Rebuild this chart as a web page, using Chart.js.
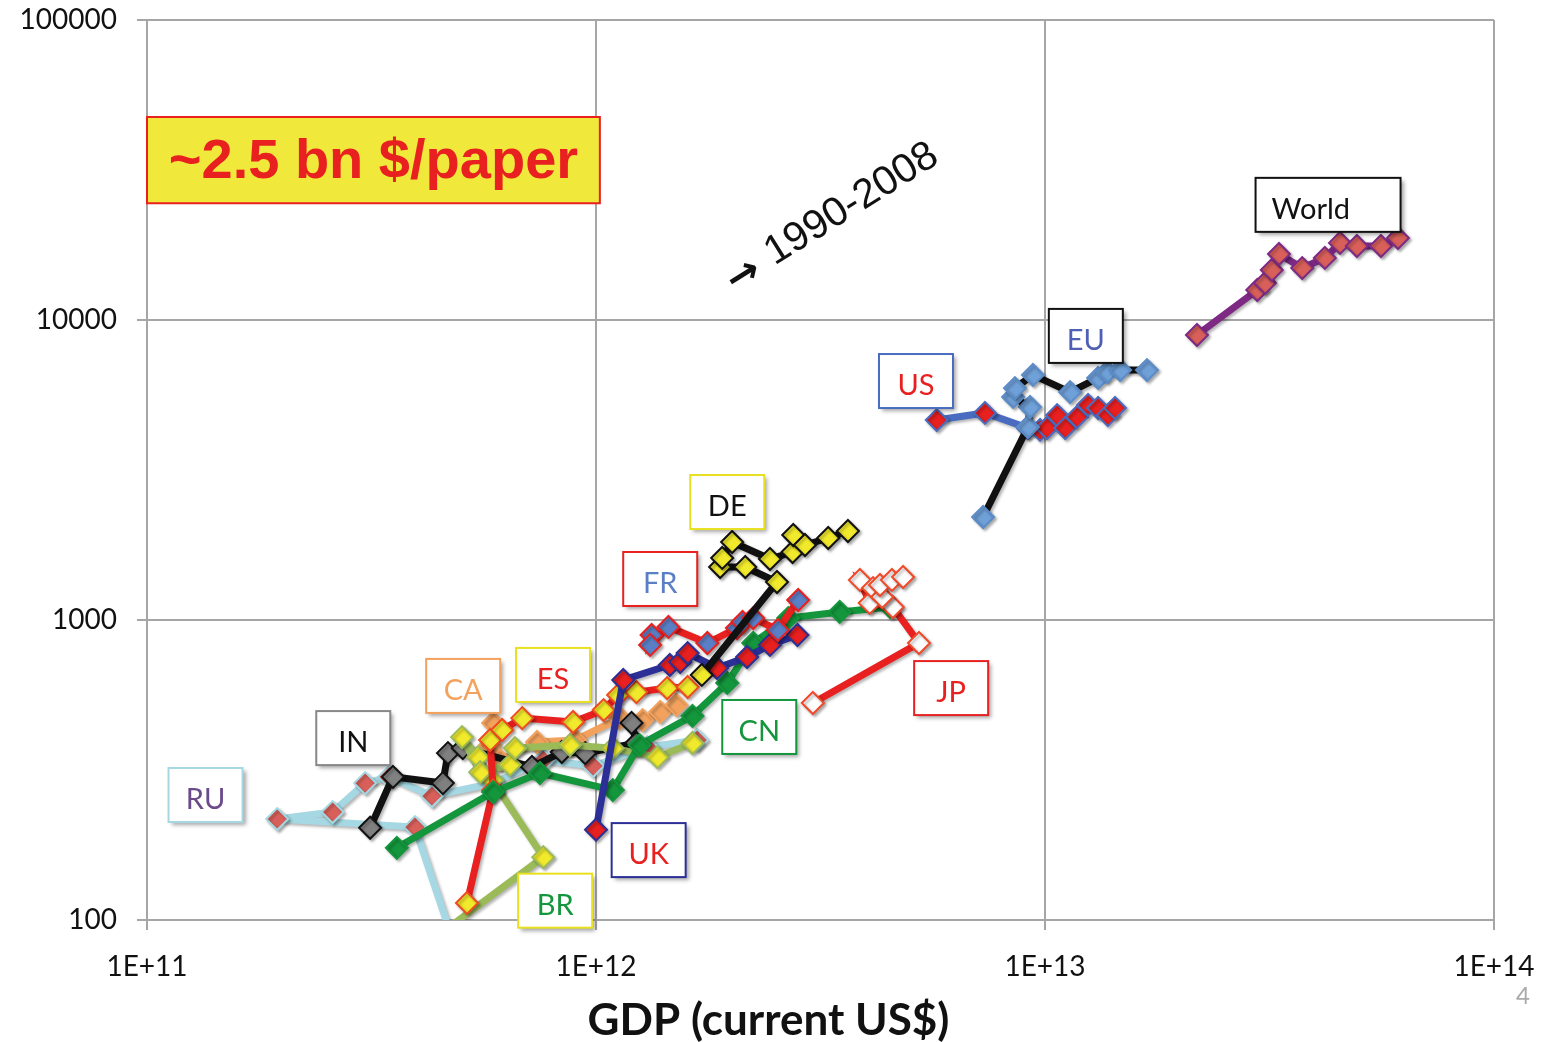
<!DOCTYPE html>
<html lang="en">
<head>
<meta charset="UTF-8">
<title>GDP vs $ per paper, 1990-2008</title>
<script src="https://cdn.jsdelivr.net/npm/chart.js"></script>
<style>
  html, body { margin: 0; padding: 0; background: #fff; }
</style>
</head>
<body>
<canvas id="gdpChart" width="1541" height="1042"></canvas>
<script>
// values: GDP (current US$) and the y value, 1990-2008
const worldGdp = [2.18e13, 2.97e13, 3.09e13, 3.2e13, 3.32e13, 3.74e13, 4.2e13, 4.54e13, 4.95e13, 5.6e13, 6.11e13];
const worldVal = [8910, 12590, 13280, 14680, 16600, 14900, 16100, 18070, 17650, 17650, 18760];

const euGdp = [7.28e12, 9.16e12, 9.26e12, 8.49e12, 8.57e12, 9.4e12, 1.137e13, 1.313e13, 1.375e13, 1.47e13, 1.687e13];
const euVal = [2205, 4400, 5130, 5540, 5930, 6560, 5750, 6410, 6710, 6810, 6810];

const usGdp = [5.74e12, 7.35e12, 9.16e12, 9.75e12, 1.01e13, 1.064e13, 1.109e13, 1.178e13, 1.247e13, 1.313e13, 1.38e13, 1.432e13];
const usVal = [4640, 4900, 4365, 4300, 4365, 4820, 4365, 4750, 5210, 5090, 4820, 5090];

const jpGdp = [3.04e12, 5.24e12, 4.58e12, 4.07e12, 3.87e12, 4.14e12, 4.34e12, 4.29e12, 4.56e12, 4.83e12];
const jpVal = [529, 838, 1105, 1140, 1360, 1278, 1193, 1308, 1360, 1391];

const deGdp = [1.72e12, 2.53e12, 2.15e12, 1.89e12, 1.91e12, 2.01e12, 2.44e12, 2.74e12, 2.75e12, 2.92e12, 3.29e12, 3.64e12];
const deVal = [656, 1339, 1502, 1502, 1610, 1820, 1597, 1685, 1920, 1778, 1876, 1980];

const frGdp = [1.33e12, 1.32e12, 1.45e12, 1.77e12, 2.06e12, 2.12e12, 2.24e12, 2.54e12, 2.82e12];
const frVal = [891, 826, 948, 838, 940, 985, 1015, 926, 1166];

const ukGdp = [1.0e12, 1.15e12, 1.46e12, 1.54e12, 1.6e12, 1.86e12, 2.17e12, 2.44e12, 2.81e12];
const ukVal = [200, 631, 708, 724, 776, 692, 753, 826, 891];

const cnGdp = [3.6e11, 5.9e11, 7.5e11, 1.09e12, 1.25e12, 1.64e12, 1.96e12, 2.24e12, 2.68e12, 3.49e12, 4.52e12];
const cnVal = [174, 267, 309, 271, 383, 479, 617, 838, 1015, 1064, 1105];

const esGdp = [5.16e11, 5.9e11, 5.81e11, 6.18e11, 6.85e11, 8.89e11, 1.04e12, 1.12e12, 1.23e12, 1.44e12, 1.6e12];
const esVal = [114, 271, 398, 430, 471, 457, 501, 562, 575, 593, 598];

const brGdp = [4.5e11, 7.63e11, 5.87e11, 5.46e11, 5.03e11, 5.52e11, 6.43e11, 6.6e11, 8.75e11, 1.09e12, 1.37e12, 1.64e12];
const brVal = [90, 162, 293, 349, 407, 311, 329, 374, 383, 374, 349, 389];

const inGdp = [3.14e11, 3.53e11, 4.56e11, 4.68e11, 5.05e11, 7.2e11, 8.39e11, 9.46e11, 1.23e12, 1.2e12];
const inVal = [203, 300, 286, 360, 374, 324, 363, 360, 389, 454];

const caGdp = [5.9e11, 5.81e11, 6.11e11, 7.39e11, 8.98e11, 1.13e12, 1.27e12, 1.39e12, 1.51e12];
const caVal = [454, 383, 341, 392, 398, 471, 464, 494, 521];

const ruGdp = [4.9e11, 3.95e11, 1.95e11, 2.59e11, 3.06e11, 3.46e11, 4.31e11, 5.9e11, 7.63e11, 9.85e11, 1.3e12, 1.68e12];
const ruVal = [78, 204, 217, 229, 286, 300, 259, 286, 341, 326, 377, 398];

const xTicks = [1e11, 1e12, 1e13, 1e14];
const yTicks = [100, 1000, 10000, 100000];

// label boxes, anchored at their centre in data units
const noteText = ['World', 'EU', 'US', 'DE', 'FR', 'JP', 'CN', 'ES', 'CA', 'IN', 'RU', 'UK', 'BR'];
const noteGdp = [4.27e13, 1.233e13, 5.16e12, 1.96e12, 1.39e12, 6.18e12, 2.31e12, 8.02e11, 5.06e11, 2.88e11, 1.35e11, 1.31e12, 8.11e11];
const noteVal = [24200, 8850, 6260, 2473, 1370, 593, 440, 656, 603, 404, 261, 171, 116];

const RED = '#e8201f', YEL = '#f1ea2c';
const noteColor = ['#111', '#4f5fb5', RED, '#111', '#5b7fc6', RED, '#14963c', RED, '#f3a25e', '#111', '#6b4a8b', RED, '#14963c'];
const noteBorder = ['#111', '#111', '#4a6cc0', '#e8e020', RED, RED, '#14963c', '#e8e020', '#f3a25e', '#888', '#a5d8e3', '#2b2f96', '#e8e020'];

function pts(xs, ys) {
    return xs.map((x, i) => ({ x: x, y: ys[i] }));
}

function series(label, xs, ys, line, fill, edge) {
    return {
        label: label,
        data: pts(xs, ys),
        showLine: true,
        borderColor: line,
        borderWidth: 7,
        pointStyle: 'rectRot',
        pointRadius: 11,
        pointBorderWidth: 2,
        pointBackgroundColor: fill,
        pointBorderColor: edge
    };
}

// first dataset is painted on top
const datasets = [
    series('World', worldGdp, worldVal, '#7e2a85', '#d9605a', '#7e2a85'),
    series('EU', euGdp, euVal, '#111', '#6fa0d8', '#5b8cc8'),
    series('US', usGdp, usVal, '#4a6cc0', RED, '#4a6cc0'),
    series('JP', jpGdp, jpVal, RED, '#fff', '#f04a2a'),
    series('DE', deGdp, deVal, '#111', YEL, '#111'),
    series('FR', frGdp, frVal, RED, '#5b7fc6', RED),
    series('UK', ukGdp, ukVal, '#2b2f96', RED, '#2b2f96'),
    series('CN', cnGdp, cnVal, '#14963c', '#14963c', '#14963c'),
    series('ES', esGdp, esVal, RED, YEL, '#f04a20'),
    series('BR', brGdp, brVal, '#9bbb59', YEL, '#9bbb59'),
    series('IN', inGdp, inVal, '#111', '#808080', '#111'),
    series('CA', caGdp, caVal, '#f3a25e', '#f3a25e', '#f3a25e'),
    series('RU', ruGdp, ruVal, '#a5d8e3', '#d9605a', '#a5d8e3')
];

const shadowPlugin = {
    id: 'shadow',
    beforeDatasetDraw(chart) {
        const ctx = chart.ctx;
        ctx.save();
        ctx.shadowColor = 'rgba(0,0,0,0.3)';
        ctx.shadowBlur = 3;
        ctx.shadowOffsetX = 2;
        ctx.shadowOffsetY = 2;
    },
    afterDatasetDraw(chart) {
        chart.ctx.restore();
    }
};

const notesPlugin = {
    id: 'notes',
    afterDatasetsDraw(chart) {
        const ctx = chart.ctx;
        const xs = chart.scales.x, ys = chart.scales.y;

        // country labels
        noteText.forEach((t, i) => {
            const cx = xs.getPixelForValue(noteGdp[i]);
            const cy = ys.getPixelForValue(noteVal[i]);
            const w = t === 'World' ? 145 : 74, h = 54;
            ctx.save();
            ctx.shadowColor = 'rgba(0,0,0,0.35)';
            ctx.shadowBlur = 4;
            ctx.shadowOffsetX = 3;
            ctx.shadowOffsetY = 3;
            ctx.fillStyle = '#fff';
            ctx.fillRect(cx - w / 2, cy - h / 2, w, h);
            ctx.restore();
            ctx.strokeStyle = noteBorder[i];
            ctx.lineWidth = 2;
            ctx.strokeRect(cx - w / 2, cy - h / 2, w, h);
            ctx.fillStyle = noteColor[i];
            ctx.font = '29px Lato';
            ctx.textBaseline = 'middle';
            if (t === 'World') {
                ctx.textAlign = 'left';
                ctx.fillText(t, cx - w / 2 + 16, cy + 5);
            } else {
                ctx.textAlign = 'center';
                ctx.fillText(t, cx, cy + 5);
            }
        });

        // yellow headline box
        const bx0 = xs.getPixelForValue(1e11), bx1 = xs.getPixelForValue(1.02e12);
        const by0 = ys.getPixelForValue(47500), by1 = ys.getPixelForValue(24500);
        ctx.fillStyle = '#f0e83a';
        ctx.fillRect(bx0, by0, bx1 - bx0, by1 - by0);
        ctx.strokeStyle = RED;
        ctx.lineWidth = 2;
        ctx.strokeRect(bx0, by0, bx1 - bx0, by1 - by0);
        ctx.fillStyle = RED;
        ctx.font = 'bold 56px "Liberation Sans"';
        ctx.textAlign = 'center';
        ctx.textBaseline = 'middle';
        ctx.fillText('~2.5 bn $/paper', (bx0 + bx1) / 2, (by0 + by1) / 2 + 2);

        // period note
        ctx.save();
        ctx.translate(xs.getPixelForValue(3.4e12), ys.getPixelForValue(22400));
        ctx.rotate(-32 * Math.PI / 180);
        ctx.fillStyle = '#111';
        ctx.textAlign = 'left';
        ctx.font = 'bold 40px "DejaVu Sans"';
        ctx.fillText('\u2192', -126, 4);
        ctx.font = '41px "Liberation Sans"';
        ctx.fillText('1990-2008', -78, 0);
        ctx.restore();

        // axis title, centred on the page like the slide
        ctx.fillStyle = '#111';
        ctx.font = 'bold 44px Lato';
        ctx.textAlign = 'center';
        ctx.fillText('GDP (current US$)', chart.width / 2 - 2, chart.chartArea.bottom + 101);

        // slide number
        ctx.fillStyle = '#aaa';
        ctx.font = '24px Lato';
        ctx.fillText('4', chart.width - 18, chart.chartArea.bottom + 76);
    }
};

new Chart(document.getElementById('gdpChart'), {
    type: 'scatter',
    data: { datasets: datasets },
    plugins: [shadowPlugin, notesPlugin],
    options: {
        responsive: false,
        animation: false,
        layout: { padding: { top: 20, right: 47, left: 0, bottom: 0 } },
        plugins: { legend: { display: false }, tooltip: { enabled: false } },
        elements: { line: { tension: 0 } },
        scales: {
            x: {
                type: 'logarithmic',
                min: 1e11,
                max: 1e14,
                afterBuildTicks: s => { s.ticks = xTicks.map(v => ({ value: v })); },
                afterFit: s => {
                    s.height = 122;
                    s.paddingLeft = 0;
                    s.paddingRight = 0;
                },
                ticks: {
                    padding: 20,
                    color: '#111',
                    font: { family: 'Lato', size: 28 },
                    maxRotation: 0,
                    callback: v => '1E+' + Math.round(Math.log10(v))
                },
                grid: { color: '#a6a6a6', lineWidth: 2, tickLength: 10 },
                border: { color: '#a6a6a6', width: 2 }
            },
            y: {
                type: 'logarithmic',
                min: 100,
                max: 100000,
                afterBuildTicks: s => { s.ticks = yTicks.map(v => ({ value: v })); },
                afterFit: s => {
                    s.width = 147;
                    s.paddingTop = 0;
                    s.paddingBottom = 0;
                },
                ticks: {
                    padding: 20,
                    color: '#111',
                    font: { family: 'Lato', size: 28 },
                    callback: v => String(v)
                },
                grid: { color: '#a6a6a6', lineWidth: 2, tickLength: 10 },
                border: { color: '#a6a6a6', width: 2 }
            }
        }
    }
});
</script>
</body>
</html>
